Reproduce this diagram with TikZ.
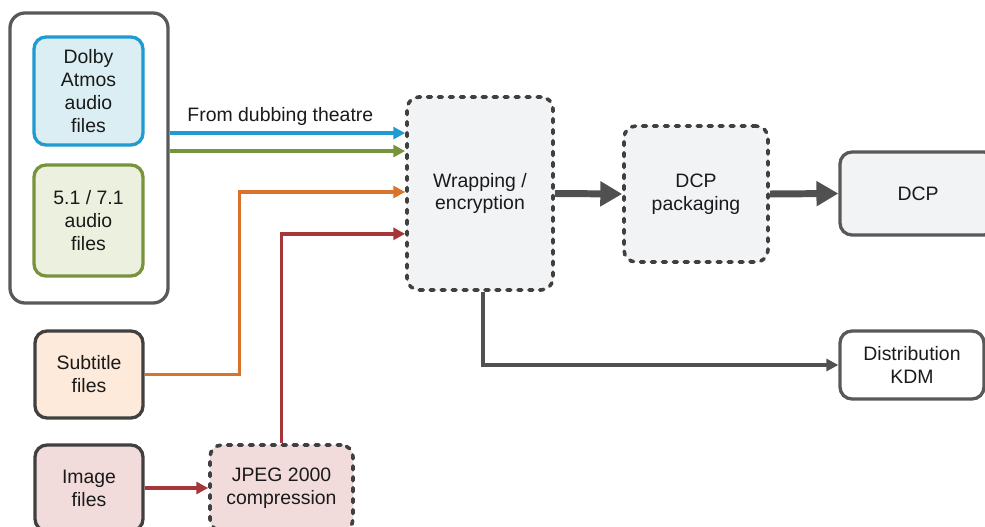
\documentclass[tikz,border=0pt]{standalone}
\usepackage{fontspec}
\setmainfont{Liberation Sans}
\usetikzlibrary{arrows.meta,positioning}
\definecolor{boxline}{HTML}{404040}
\definecolor{groupline}{HTML}{595959}
\definecolor{arrowgrey}{HTML}{505050}
\definecolor{textcol}{HTML}{1A1A1A}
\definecolor{procfill}{HTML}{F2F3F5}
\definecolor{atmosline}{HTML}{1F9BD1}
\definecolor{atmosfill}{HTML}{DAEEF3}
\definecolor{surrline}{HTML}{77933C}
\definecolor{surrfill}{HTML}{EBF1DE}
\definecolor{subline}{HTML}{D9722A}
\definecolor{subfill}{HTML}{FDEADA}
\definecolor{imgline}{HTML}{A5373A}
\definecolor{imgfill}{HTML}{F2DCDB}
\begin{document}
\begin{tikzpicture}[x=1bp, y=-1bp,
    box/.style = {draw=boxline, line width=3.3pt, rounded corners=12pt, align=center,
                  inner sep=0pt, text=textcol, font=\fontsize{19.5}{23}\selectfont},
    dashbox/.style = {box, fill=procfill, line width=3.6pt, dash pattern=on 4pt off 7pt, line cap=round},
    link/.style = {line width=3.5pt, -{Triangle[length=12pt,width=12pt]}},
    bigarrow/.style = {draw=arrowgrey, line width=7pt, -{Triangle[length=22pt,width=24pt]}}]
  \useasboundingbox (0,0) rectangle (985,527);
  % sources
  \node[box, draw=groupline, fill=white, rounded corners=15pt, minimum width=158bp, minimum height=290bp] (audio) at (89,158) {};
  \node[box, draw=atmosline, fill=atmosfill, minimum width=109bp, minimum height=108bp] (atmos) at (88.5,91) {Dolby\\Atmos\\audio\\files};
  \node[box, draw=surrline, fill=surrfill, minimum width=109bp, minimum height=111bp] (surround) at (88.5,220.5) {5.1 / 7.1\\audio\\files};
  \node[box, fill=subfill, minimum width=108bp, minimum height=87bp] (subtitle) at (89,374.5) {Subtitle\\files};
  \node[box, fill=imgfill, minimum width=108bp, minimum height=86bp] (image) at (89,488) {Image\\files};
  \node[dashbox, fill=imgfill, minimum width=143bp, minimum height=86bp] (jpeg) at (281.5,488) {JPEG 2000\\compression};
  % processing
  \node[dashbox, minimum width=146bp, minimum height=193bp] (wrap) at (480,193.5) {Wrapping /\\encryption};
  \node[dashbox, minimum width=144bp, minimum height=136bp] (pack) at (696,194) {DCP\\packaging};
  \node[box, draw=groupline, fill=procfill, minimum width=156bp, minimum height=83bp] (dcp) at (918,193.5) {DCP};
  \node[box, draw=groupline, fill=white, minimum width=144bp, minimum height=68bp] (kdm) at (912,365) {Distribution\\KDM};
  % connectors
  \draw[link, atmosline] ([yshift=25pt]audio.east) -- ([yshift=25pt]audio.east -| wrap.west)
    node[pos=0.47, above=3pt, text=textcol, font=\fontsize{19.5}{23}\selectfont] (dubbing) {From dubbing theatre};
  \draw[link, surrline] ([yshift=7pt]audio.east) -- ([yshift=7pt]audio.east -| wrap.west);
  \draw[link, subline] (subtitle.east) -- ++(95,0) |- ([yshift=1.5pt]wrap.west);
  \draw[link, imgline] (jpeg.north) |- ([yshift=-40.5pt]wrap.west);
  \draw[link, imgline] (image.east) -- (jpeg.west);
  \draw[bigarrow] (wrap.east) -- (pack.west);
  \draw[bigarrow] (pack.east) -- (dcp.west);
  \draw[link, arrowgrey] ([xshift=3pt]wrap.south) |- (kdm.west);
\end{tikzpicture}
\end{document}
